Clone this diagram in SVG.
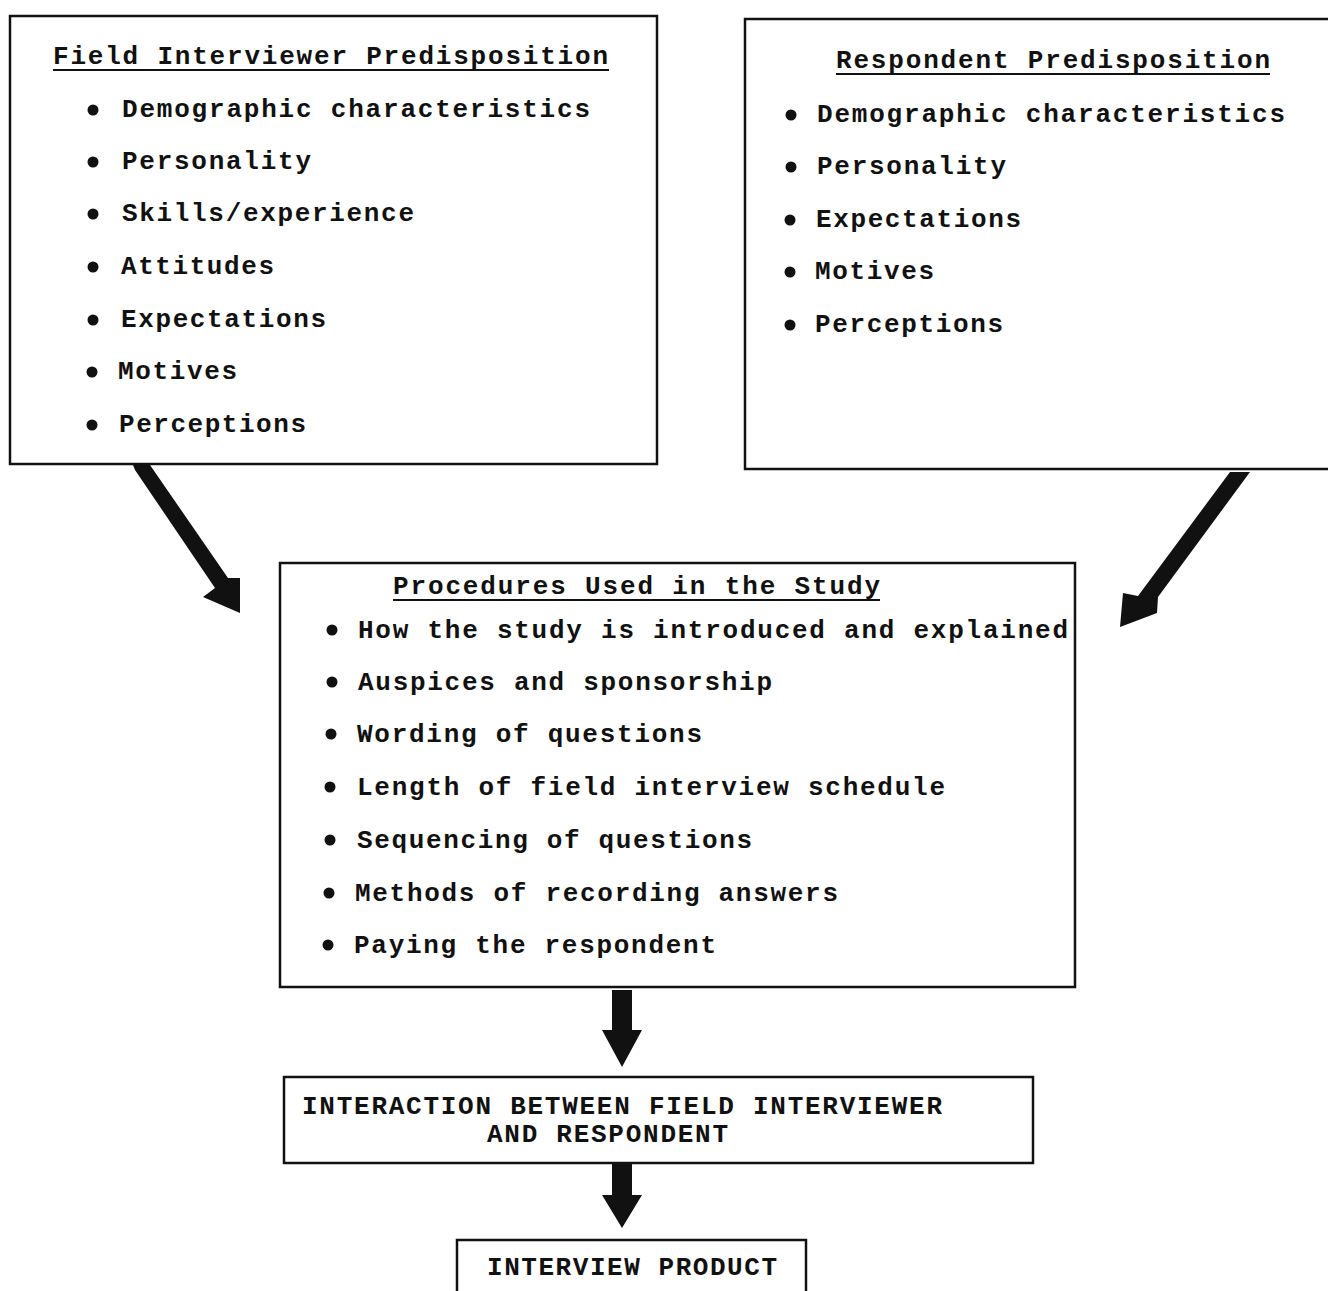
<svg xmlns="http://www.w3.org/2000/svg" width="1328" height="1291" viewBox="0 0 1328 1291">
<style>
.box{fill:#fff;stroke:#111;stroke-width:2.5}
.t{font-family:"Liberation Mono","Courier New",monospace;font-weight:bold;font-size:26px;fill:#111}
.ul{stroke:#111;stroke-width:2}
.bul{fill:#111}
.arr{fill:#111}
</style>
<rect width="1328" height="1291" fill="#fff"/>
<g id="connectors">
<polygon class="arr" points="133,465 150,465 228,578 240,578 240,613 203,597 215,588 135,470"/>
<polygon class="arr" points="1230,472 1250,472 1158,597 1157,613 1120,627 1123,593 1138,596"/>
<polygon class="arr" points="612,990 632,990 632,1030 642,1030 622,1067 602,1030 612,1030"/>
<polygon class="arr" points="612,1163 632,1163 632,1195 642,1195 622,1228 602,1195 612,1195"/>
</g>
<g id="field-interviewer">
<rect class="box" x="10" y="16" width="647" height="448"/>
<text class="t" x="53" y="64" textLength="555" lengthAdjust="spacing">Field Interviewer Predisposition</text>
<line class="ul" x1="53" y1="70" x2="609" y2="70"/>
<circle class="bul" cx="93" cy="110" r="5.5"/><text class="t" x="122" y="117" textLength="468" lengthAdjust="spacing">Demographic characteristics</text>
<circle class="bul" cx="93" cy="162" r="5.5"/><text class="t" x="122" y="169" textLength="189" lengthAdjust="spacing">Personality</text>
<circle class="bul" cx="93" cy="214" r="5.5"/><text class="t" x="122" y="221" textLength="292" lengthAdjust="spacing">Skills/experience</text>
<circle class="bul" cx="93" cy="267" r="5.5"/><text class="t" x="121" y="274" textLength="153" lengthAdjust="spacing">Attitudes</text>
<circle class="bul" cx="93" cy="320" r="5.5"/><text class="t" x="121" y="327" textLength="205" lengthAdjust="spacing">Expectations</text>
<circle class="bul" cx="92" cy="372" r="5.5"/><text class="t" x="118" y="379" textLength="119" lengthAdjust="spacing">Motives</text>
<circle class="bul" cx="92" cy="425" r="5.5"/><text class="t" x="119" y="432" textLength="187" lengthAdjust="spacing">Perceptions</text>
</g>
<g id="respondent">
<rect class="box" x="745" y="19" width="600" height="450"/>
<text class="t" x="836" y="68" textLength="434" lengthAdjust="spacing">Respondent Predisposition</text>
<line class="ul" x1="836" y1="74" x2="1270" y2="74"/>
<circle class="bul" cx="791" cy="115" r="5.5"/><text class="t" x="817" y="122" textLength="468" lengthAdjust="spacing">Demographic characteristics</text>
<circle class="bul" cx="791" cy="167" r="5.5"/><text class="t" x="817" y="174" textLength="189" lengthAdjust="spacing">Personality</text>
<circle class="bul" cx="790" cy="220" r="5.5"/><text class="t" x="816" y="227" textLength="205" lengthAdjust="spacing">Expectations</text>
<circle class="bul" cx="790" cy="272" r="5.5"/><text class="t" x="815" y="279" textLength="119" lengthAdjust="spacing">Motives</text>
<circle class="bul" cx="790" cy="325" r="5.5"/><text class="t" x="815" y="332" textLength="188" lengthAdjust="spacing">Perceptions</text>
</g>
<g id="procedures">
<rect class="box" x="280" y="563" width="795" height="424"/>
<text class="t" x="393" y="594" textLength="487" lengthAdjust="spacing">Procedures Used in the Study</text>
<line class="ul" x1="393" y1="600" x2="880" y2="600"/>
<circle class="bul" cx="332" cy="630" r="5.5"/><text class="t" x="358" y="638" textLength="710" lengthAdjust="spacing">How the study is introduced and explained</text>
<circle class="bul" cx="332" cy="682" r="5.5"/><text class="t" x="358" y="690" textLength="414" lengthAdjust="spacing">Auspices and sponsorship</text>
<circle class="bul" cx="331" cy="734" r="5.5"/><text class="t" x="357" y="742" textLength="345" lengthAdjust="spacing">Wording of questions</text>
<circle class="bul" cx="330" cy="787" r="5.5"/><text class="t" x="357" y="795" textLength="588" lengthAdjust="spacing">Length of field interview schedule</text>
<circle class="bul" cx="330" cy="840" r="5.5"/><text class="t" x="357" y="848" textLength="395" lengthAdjust="spacing">Sequencing of questions</text>
<circle class="bul" cx="329" cy="893" r="5.5"/><text class="t" x="355" y="901" textLength="483" lengthAdjust="spacing">Methods of recording answers</text>
<circle class="bul" cx="328" cy="945" r="5.5"/><text class="t" x="354" y="953" textLength="362" lengthAdjust="spacing">Paying the respondent</text>
</g>
<g id="interaction">
<rect class="box" x="284" y="1077" width="749" height="86"/>
<text class="t" x="302" y="1114" textLength="640" lengthAdjust="spacing">INTERACTION BETWEEN FIELD INTERVIEWER</text>
<text class="t" x="487" y="1142" textLength="241" lengthAdjust="spacing">AND RESPONDENT</text>
</g>
<g id="product">
<rect class="box" x="457" y="1240" width="349" height="70"/>
<text class="t" x="487" y="1275" textLength="290" lengthAdjust="spacing">INTERVIEW PRODUCT</text>
</g>
</svg>
